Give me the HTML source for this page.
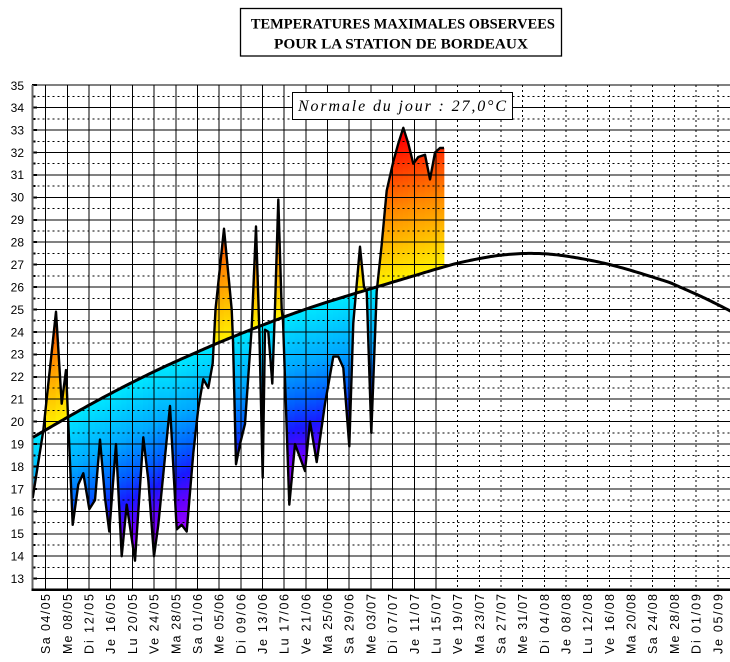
<!DOCTYPE html>
<html><head><meta charset="utf-8">
<style>
html,body{margin:0;padding:0;background:#fff;width:730px;height:662px;overflow:hidden}
svg{display:block}
.yl{font-family:"Liberation Sans",sans-serif;font-size:12px;fill:#000}
.xl{font-family:"Liberation Sans",sans-serif;font-size:12.5px;fill:#000}
</style></head><body>
<svg id="c" width="730" height="662" viewBox="0 0 730 662" xmlns="http://www.w3.org/2000/svg">
<defs id="defs">
<clipPath id="pa"><rect x="32.5" y="80" width="698" height="510"/></clipPath>
</defs>
<g id="fill" clip-path="url(#pa)"></g>
<g id="grid" shape-rendering="crispEdges"></g>
<g id="lines" clip-path="url(#pa)"></g>

<!-- Title -->
<rect x="240.5" y="8.5" width="321" height="47.5" fill="#fff" stroke="#000" stroke-width="1.3"/>
<text x="402.9" y="28.3" text-anchor="middle" font-family="'Liberation Serif',serif" font-weight="bold" font-size="14.5" textLength="304" lengthAdjust="spacingAndGlyphs">TEMPERATURES MAXIMALES OBSERVEES</text>
<text x="401" y="48.3" text-anchor="middle" font-family="'Liberation Serif',serif" font-weight="bold" font-size="14.5" textLength="254" lengthAdjust="spacingAndGlyphs">POUR LA STATION DE BORDEAUX</text>

<!-- Legend -->
<rect x="292.5" y="92.5" width="220" height="27" fill="#fff" stroke="#000" stroke-width="1"/>
<text x="298" y="111" font-family="'Liberation Serif',serif" font-style="italic" font-size="16" textLength="208" lengthAdjust="spacing">Normale du jour : 27,0°C</text>

<!-- Y labels -->
<g class="yl" text-anchor="end">
<text x="24" y="90">35</text>
<text x="24" y="112">34</text>
<text x="24" y="134.4">33</text>
<text x="24" y="156.8">32</text>
<text x="24" y="179.2">31</text>
<text x="24" y="201.7">30</text>
<text x="24" y="224.1">29</text>
<text x="24" y="246.5">28</text>
<text x="24" y="269">27</text>
<text x="24" y="291.4">26</text>
<text x="24" y="313.8">25</text>
<text x="24" y="336.3">24</text>
<text x="24" y="358.7">23</text>
<text x="24" y="381.1">22</text>
<text x="24" y="403.6">21</text>
<text x="24" y="426">20</text>
<text x="24" y="448.4">19</text>
<text x="24" y="470.8">18</text>
<text x="24" y="493.3">17</text>
<text x="24" y="515.7">16</text>
<text x="24" y="538.1">15</text>
<text x="24" y="560.6">14</text>
<text x="24" y="583">13</text>
</g>

<!-- X labels -->
<g class="xl" text-anchor="end">
<text transform="translate(50.2,594) rotate(-90)" textLength="60" lengthAdjust="spacing">Sa 04/05</text>
<text transform="translate(71.9,594) rotate(-90)" textLength="60" lengthAdjust="spacing">Me 08/05</text>
<text transform="translate(93.6,594) rotate(-90)" textLength="60" lengthAdjust="spacing">Di 12/05</text>
<text transform="translate(115.2,594) rotate(-90)" textLength="60" lengthAdjust="spacing">Je 16/05</text>
<text transform="translate(136.9,594) rotate(-90)" textLength="60" lengthAdjust="spacing">Lu 20/05</text>
<text transform="translate(158.6,594) rotate(-90)" textLength="60" lengthAdjust="spacing">Ve 24/05</text>
<text transform="translate(180.3,594) rotate(-90)" textLength="60" lengthAdjust="spacing">Ma 28/05</text>
<text transform="translate(202,594) rotate(-90)" textLength="60" lengthAdjust="spacing">Sa 01/06</text>
<text transform="translate(223.6,594) rotate(-90)" textLength="60" lengthAdjust="spacing">Me 05/06</text>
<text transform="translate(245.3,594) rotate(-90)" textLength="60" lengthAdjust="spacing">Di 09/06</text>
<text transform="translate(267,594) rotate(-90)" textLength="60" lengthAdjust="spacing">Je 13/06</text>
<text transform="translate(288.7,594) rotate(-90)" textLength="60" lengthAdjust="spacing">Lu 17/06</text>
<text transform="translate(310.4,594) rotate(-90)" textLength="60" lengthAdjust="spacing">Ve 21/06</text>
<text transform="translate(332,594) rotate(-90)" textLength="60" lengthAdjust="spacing">Ma 25/06</text>
<text transform="translate(353.7,594) rotate(-90)" textLength="60" lengthAdjust="spacing">Sa 29/06</text>
<text transform="translate(375.4,594) rotate(-90)" textLength="60" lengthAdjust="spacing">Me 03/07</text>
<text transform="translate(397.1,594) rotate(-90)" textLength="60" lengthAdjust="spacing">Di 07/07</text>
<text transform="translate(418.8,594) rotate(-90)" textLength="60" lengthAdjust="spacing">Je 11/07</text>
<text transform="translate(440.4,594) rotate(-90)" textLength="60" lengthAdjust="spacing">Lu 15/07</text>
<text transform="translate(462.1,594) rotate(-90)" textLength="60" lengthAdjust="spacing">Ve 19/07</text>
<text transform="translate(483.8,594) rotate(-90)" textLength="60" lengthAdjust="spacing">Ma 23/07</text>
<text transform="translate(505.5,594) rotate(-90)" textLength="60" lengthAdjust="spacing">Sa 27/07</text>
<text transform="translate(527.2,594) rotate(-90)" textLength="60" lengthAdjust="spacing">Me 31/07</text>
<text transform="translate(548.8,594) rotate(-90)" textLength="60" lengthAdjust="spacing">Di 04/08</text>
<text transform="translate(570.5,594) rotate(-90)" textLength="60" lengthAdjust="spacing">Je 08/08</text>
<text transform="translate(592.2,594) rotate(-90)" textLength="60" lengthAdjust="spacing">Lu 12/08</text>
<text transform="translate(613.9,594) rotate(-90)" textLength="60" lengthAdjust="spacing">Ve 16/08</text>
<text transform="translate(635.6,594) rotate(-90)" textLength="60" lengthAdjust="spacing">Ma 20/08</text>
<text transform="translate(657.2,594) rotate(-90)" textLength="60" lengthAdjust="spacing">Sa 24/08</text>
<text transform="translate(678.9,594) rotate(-90)" textLength="60" lengthAdjust="spacing">Me 28/08</text>
<text transform="translate(700.6,594) rotate(-90)" textLength="60" lengthAdjust="spacing">Di 01/09</text>
<text transform="translate(722.3,594) rotate(-90)" textLength="60" lengthAdjust="spacing">Je 05/09</text>
</g>
</svg>
<script>
(function(){
const NS="http://www.w3.org/2000/svg";
function el(t,a,p){const e=document.createElementNS(NS,t);for(const k in a)e.setAttribute(k,a[k]);p.appendChild(e);return e;}
const X0=45.7, DX=5.42;
const Y=v=>85.2+(35-v)*22.43;
const KP=[[20,18.95],[33,19.3],[67,20.18],[97,20.93],[130,21.7],[163,22.42],[197,23.1],[230,23.73],[277,24.55],[310,25.08],[343,25.55],[380,26.05],[410,26.45],[440,26.85],[463,27.12],[497,27.4],[530,27.5],[563,27.4],[610,27.0],[663,26.3],[680,26.0],[705,25.5],[731,24.92],[745,24.6]];
const NP=[];
for(let i=1;i<KP.length-2;i++){
  const p0=KP[i-1],p1=KP[i],p2=KP[i+1],p3=KP[i+2];
  const steps=Math.max(4,Math.ceil((p2[0]-p1[0])/2));
  for(let s=0;s<steps;s++){
    const t=s/steps,t2=t*t,t3=t2*t;
    const f=(a,b,c,d)=>0.5*((2*b)+(-a+c)*t+(2*a-5*b+4*c-d)*t2+(-a+3*b-3*c+d)*t3);
    NP.push([f(p0[0],p1[0],p2[0],p3[0]),f(p0[1],p1[1],p2[1],p3[1])]);
  }
}
NP.push(KP[KP.length-2]);
function N(x){for(let i=0;i<NP.length-1;i++){if(x<=NP[i+1][0]){const t=(x-NP[i][0])/(NP[i+1][0]-NP[i][0]);return NP[i][1]+t*(NP[i+1][1]-NP[i][1]);}}return NP[NP.length-1][1];}
const D=[[32.7,16.6],[43.3,19.6],[56,24.9],[61.7,20.8],[66,22.3],[72.7,15.4],[78.3,17.2],[83.3,17.7],[89.3,16.1],[95,16.5],[100,19.2],[105,16.6],[109.3,15.1],[116,19.0],[121.7,14.0],[126.7,16.3],[135,13.8],[143.3,19.3],[148.3,17.4],[154,14.0],[158.3,15.4],[170,20.7],[176.7,15.2],[181.7,15.4],[186.7,15.1],[193.3,18.6],[198.3,20.6],[203.3,21.9],[208.3,21.5],[212.7,22.6],[215.5,25.0],[224,28.6],[231.7,25.0],[233,23.6],[236,18.1],[240,19.0],[245,19.9],[251.7,24.2],[256,28.7],[259.3,24.1],[262.7,17.5],[265,24.1],[268.3,24.0],[272.3,21.7],[275,25.1],[278.3,29.9],[281.7,25.0],[283,24.5],[289.3,16.3],[295,19.0],[305,17.8],[310,20.0],[316.7,18.2],[325,20.8],[333.3,22.9],[338.3,22.9],[343.3,22.4],[349.3,18.9],[353.3,24.4],[360,27.8],[364,26.0],[366.7,25.8],[371.3,19.5],[376.7,25.8],[381.7,27.9],[386.7,30.3],[393.3,31.6],[398.3,32.4],[403.3,33.1],[408.3,32.4],[413.3,31.5],[418.3,31.8],[425,31.9],[430,30.8],[435,32.0],[440,32.2],[444,32.2]];
const defs=document.getElementById('defs'),gf=document.getElementById('fill'),gg=document.getElementById('grid'),gl=document.getElementById('lines');
let gid=0;
function grad(warm,n){
  const id='g'+(gid++);
  const lg=el('linearGradient',{id:id,gradientUnits:'userSpaceOnUse',x1:0,x2:0,y1:Y(n),y2:warm?Y(n+6.3):Y(n-8)},defs);
  const st=warm?[[0,'#fff200'],[0.5,'#ff8a00'],[1,'#ff0000']]:[[0,'#00e8ff'],[0.3,'#00a8ff'],[0.5,'#0060ff'],[0.65,'#1818ff'],[0.8,'#6400ff'],[1,'#aa00ff']];
  st.forEach(s=>el('stop',{offset:s[0],'stop-color':s[1]},lg));
  return 'url(#'+id+')';
}
function poly(pts,warm,n){el('polygon',{points:pts.map(p=>p[0].toFixed(2)+','+p[1].toFixed(2)).join(' '),fill:grad(warm,n)},gf);}
for(let i=0;i<D.length-1;i++){
  const x1=D[i][0],v1=D[i][1],x2=D[i+1][0],v2=D[i+1][1];
  const n1=N(x1),n2=N(x2),a1=v1-n1,a2=v2-n2;
  const pcs=[];
  if(a1*a2<0){const t=a1/(a1-a2);const xc=x1+t*(x2-x1),nc=n1+t*(n2-n1);pcs.push([x1,v1,n1,xc,nc,nc]);pcs.push([xc,nc,nc,x2,v2,n2]);}
  else pcs.push([x1,v1,n1,x2,v2,n2]);
  pcs.forEach(p=>{
    const xa=p[0],va=p[1],na=p[2],xb=p[3],vb=p[4],nb=p[5],e=0.35;
    const warm=(va-na)+(vb-nb)>0;
    poly([[xa-e,Y(va)],[xb+e,Y(vb)],[xb+e,Y(nb)],[xa-e,Y(na)]],warm,(na+nb)/2);
  });
}
for(let v=13;v<=35;v++){el('line',{x1:32.5,x2:730,y1:Y(v),y2:Y(v),stroke:'#000','stroke-width':1},gg);}
for(let v=13.5;v<35;v++){el('line',{x1:32.5,x2:730,y1:Y(v),y2:Y(v),stroke:'#000','stroke-width':1,'stroke-dasharray':'2 3'},gg);}
for(let d=0;d<=124;d+=4){const x=X0+DX*d;const a={x1:x,x2:x,y1:Y(35),y2:589,stroke:'#000','stroke-width':1};if(d>72)a['stroke-dasharray']='2 3';el('line',a,gg);}
for(let v=13;v<=35;v++){el('line',{x1:32,x2:37,y1:Y(v),y2:Y(v),stroke:'#000','stroke-width':2},gg);}
for(let v=13.5;v<35;v++){el('line',{x1:32,x2:35.5,y1:Y(v),y2:Y(v),stroke:'#000','stroke-width':2},gg);}
el('line',{x1:32.5,x2:32.5,y1:Y(35),y2:590,stroke:'#666','stroke-width':2},gg);
el('line',{x1:31.5,x2:730,y1:589.8,y2:589.8,stroke:'#000','stroke-width':2.5},gg);
el('polyline',{points:NP.map(p=>p[0].toFixed(2)+','+Y(p[1]).toFixed(2)).join(' '),fill:'none',stroke:'#000','stroke-width':3,'stroke-linejoin':'round'},gl);
el('polyline',{points:D.map(p=>p[0]+','+Y(p[1]).toFixed(2)).join(' '),fill:'none',stroke:'#000','stroke-width':2.4,'stroke-linejoin':'round'},gl);
})();
</script>
</body></html>
